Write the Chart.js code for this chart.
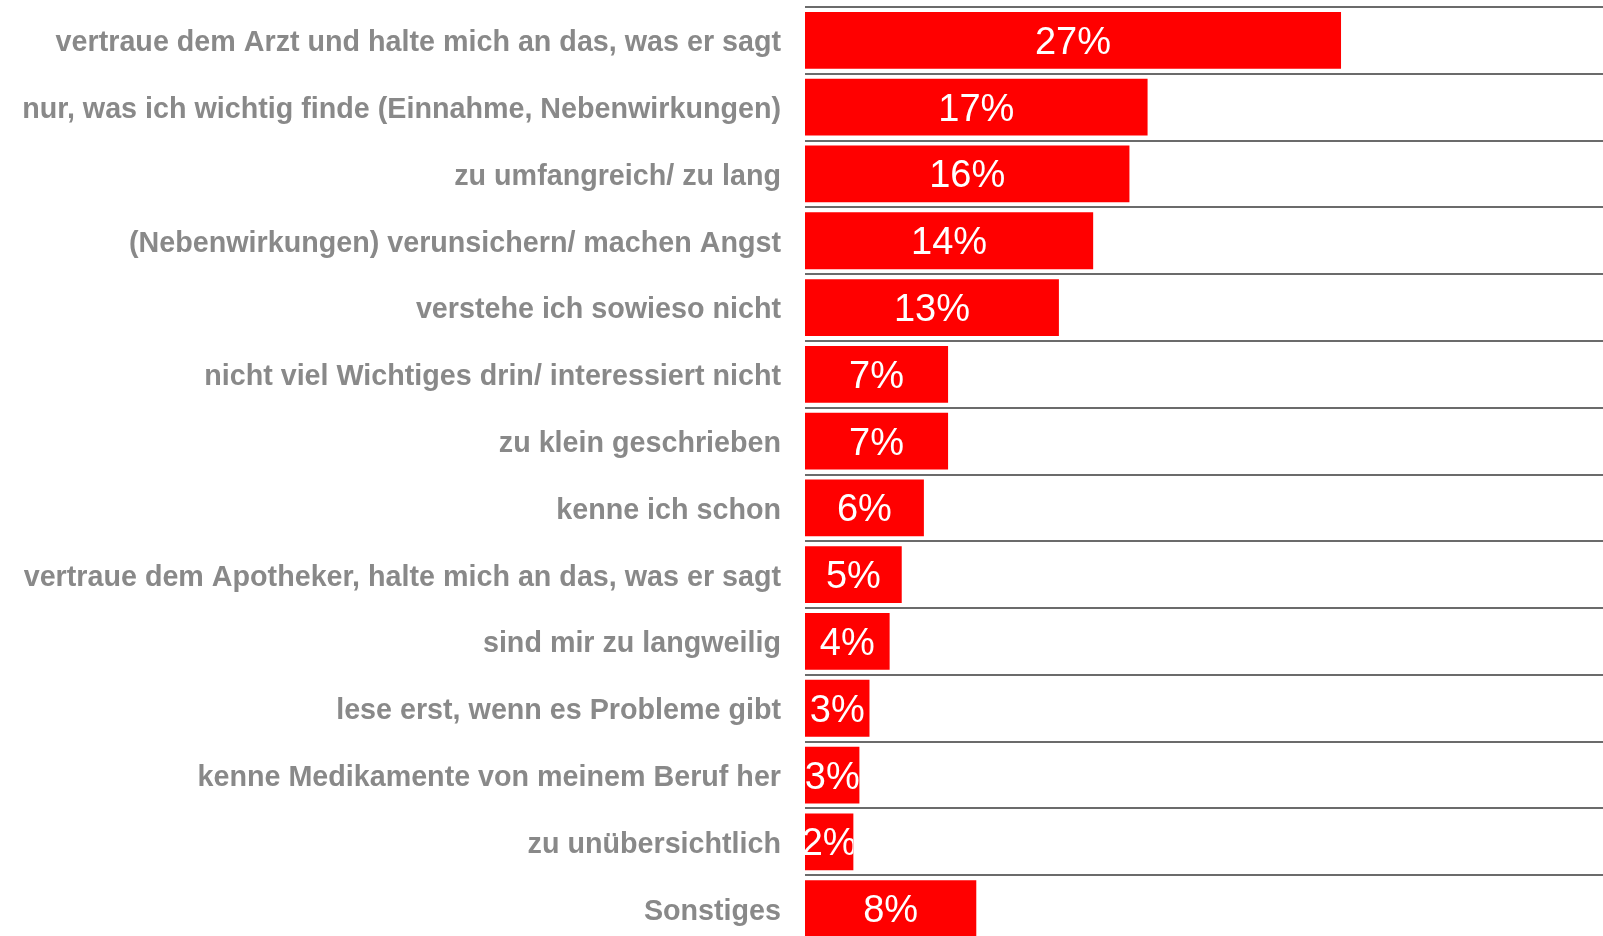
<!DOCTYPE html>
<html lang="de">
<head>
<meta charset="utf-8">
<title>Packungsbeilage</title>
<script src="https://cdn.jsdelivr.net/npm/chart.js@4.4.1/dist/chart.umd.min.js"></script>
<style>
  html, body { margin: 0; padding: 0; background: #fff; overflow: hidden; }
  #caixa { width: 1603px; height: 936px; overflow: hidden; }
</style>
</head>
<body>
<div id="caixa">
  <canvas id="grafico" width="1603" height="942"></canvas>
</div>
<script>
// categorias (eixo y)
const categorias = [
  'vertraue dem Arzt und halte mich an das, was er sagt',
  'nur, was ich wichtig finde (Einnahme, Nebenwirkungen)',
  'zu umfangreich/ zu lang',
  '(Nebenwirkungen) verunsichern/ machen Angst',
  'verstehe ich sowieso nicht',
  'nicht viel Wichtiges drin/ interessiert nicht',
  'zu klein geschrieben',
  'kenne ich schon',
  'vertraue dem Apotheker, halte mich an das, was er sagt',
  'sind mir zu langweilig',
  'lese erst, wenn es Probleme gibt',
  'kenne Medikamente von meinem Beruf her',
  'zu unübersichtlich',
  'Sonstiges'
];

const valores = [26.6, 17.0, 16.1, 14.3, 12.6, 7.1, 7.1, 5.9, 4.8, 4.2, 3.2, 2.7, 2.4, 8.5];

// texto mostrado dentro de cada barra
const rotulos = ['27%', '17%', '16%', '14%', '13%', '7%', '7%', '6%', '5%', '4%', '3%', '3%', '2%', '8%'];

// escreve o rótulo no meio da barra, cortado pela própria barra
const pluginRotulos = {
  id: 'rotulos',
  afterDatasetsDraw(chart) {
    const ctx = chart.ctx;
    const meta = chart.getDatasetMeta(0);
    ctx.save();
    ctx.font = '38px "Liberation Sans", Arial, sans-serif';
    ctx.fillStyle = '#ffffff';
    ctx.textAlign = 'center';
    ctx.textBaseline = 'middle';
    meta.data.forEach(function (barra, i) {
      const p = barra.getProps(['x', 'y', 'base', 'height'], true);
      ctx.save();
      ctx.beginPath();
      ctx.rect(p.base, p.y - p.height / 2, p.x - p.base, p.height);
      ctx.clip();
      ctx.fillText(rotulos[i], (p.base + p.x) / 2, p.y + 3);
      ctx.restore();
    });
    ctx.restore();
  }
};

const dados = {
  labels: categorias,
  datasets: [{
    data: valores,
    backgroundColor: '#ff0000',
    borderWidth: 0,
    barPercentage: 0.85,
    categoryPercentage: 1
  }]
};

const config = {
  type: 'bar',
  data: dados,
  plugins: [pluginRotulos],
  options: {
    indexAxis: 'y',
    responsive: false,
    animation: false,
    layout: { padding: { top: 7, right: 0, bottom: 0, left: 0 } },
    plugins: {
      legend: { display: false },
      tooltip: { enabled: false }
    },
    scales: {
      x: {
        display: false,
        min: 0,
        max: 39.6
      },
      y: {
        border: { display: false },
        grid: {
          color: '#6b6b6b',
          lineWidth: 2,
          drawTicks: false
        },
        ticks: {
          autoSkip: false,
          padding: 24,
          labelOffset: 3,
          color: '#898989',
          font: { family: '"Liberation Sans", Arial, sans-serif', size: 28.7, weight: 'bold' }
        },
        afterFit: function (escala) {
          escala.width = 805;
          // sem folga extra em cima e embaixo
          escala.paddingTop = 0;
          escala.paddingBottom = 0;
        }
      }
    }
  }
};

let grafico = new Chart(document.getElementById('grafico'), config);
</script>
</body>
</html>
